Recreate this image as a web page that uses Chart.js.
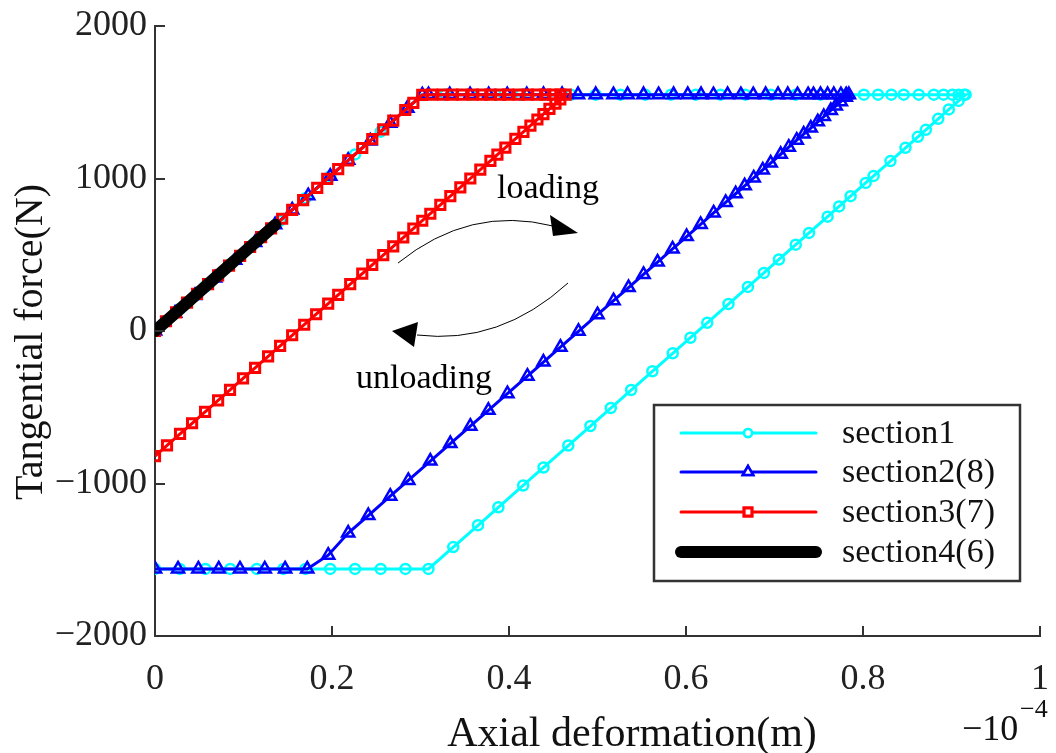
<!DOCTYPE html>
<html>
<head>
<meta charset="utf-8">
<script src="https://cdn.jsdelivr.net/npm/chart.js@4/dist/chart.umd.min.js"></script>
<style>
  html, body { margin: 0; padding: 0; background: #fff; }
  canvas { display: block; }
</style>
</head>
<body>
<canvas id="hysteresis" width="1056" height="753"></canvas>
<script>
// axial deformation in units of 1e-4 m, tangential force in N
const xTicks = [0, 0.2, 0.4, 0.6, 0.8, 1];
const yTicks = [-2000, -1000, 0, 1000, 2000];
const seriesNames = ['section1', 'section2(8)', 'section3(7)', 'section4(6)'];

// section1 : load to 0.916, unload to -1560, slide back to 0
const s1X = [0, 0.028, 0.057, 0.085, 0.113, 0.141, 0.170, 0.198, 0.226, 0.255, 0.283, 0.302,
  0.328, 0.357, 0.385, 0.413, 0.441, 0.470, 0.498, 0.526, 0.554, 0.583, 0.611, 0.639, 0.667, 0.696,
  0.724, 0.752, 0.781, 0.801, 0.817, 0.832, 0.846, 0.863, 0.880, 0.891, 0.901, 0.908, 0.914, 0.916,
  0.908, 0.897, 0.885, 0.871, 0.862, 0.848, 0.831, 0.812, 0.803, 0.786, 0.773, 0.760, 0.739, 0.724,
  0.705, 0.688, 0.670, 0.648, 0.624, 0.605, 0.585, 0.562, 0.538, 0.515, 0.492, 0.467, 0.439, 0.416,
  0.388, 0.365, 0.337, 0.309,
  0.283, 0.255, 0.226, 0.198, 0.170, 0.145, 0.115, 0.085, 0.057, 0.028, 0];
const s1Y = [0, 144, 292, 436, 579, 723, 871, 1015, 1158, 1307, 1450, 1548,
  1550, 1550, 1550, 1550, 1550, 1550, 1550, 1550, 1550, 1550, 1550, 1550, 1550, 1550,
  1550, 1550, 1550, 1550, 1550, 1550, 1550, 1550, 1550, 1550, 1550, 1550, 1550, 1550,
  1509, 1453, 1391, 1319, 1273, 1201, 1114, 1017, 971, 884, 817, 750, 643, 566,
  469, 381, 289, 177, 54, -44, -146, -264, -387, -505, -623, -751, -895, -1013,
  -1156, -1274, -1417, -1560,
  -1560, -1560, -1560, -1560, -1560, -1560, -1560, -1560, -1560, -1560, -1560];

// section2(8)
const s2X = [0, 0.0226, 0.0452, 0.0679, 0.0905, 0.1131, 0.1357, 0.155, 0.1731, 0.198, 0.2183,
  0.2432, 0.2658, 0.2851, 0.302,
  0.309, 0.333, 0.356, 0.377, 0.398, 0.420, 0.439, 0.460, 0.478, 0.498, 0.518, 0.534, 0.552,
  0.569, 0.586, 0.602, 0.617, 0.631, 0.647, 0.662, 0.676, 0.690, 0.704, 0.715, 0.726, 0.738,
  0.744, 0.752, 0.760, 0.767, 0.775, 0.781, 0.784,
  0.7805, 0.7749, 0.7692, 0.7636, 0.7557, 0.7489, 0.7410, 0.7330, 0.7251, 0.7161, 0.7070,
  0.6957, 0.6867, 0.6765, 0.6663, 0.6561, 0.6448, 0.6312, 0.6165, 0.6007, 0.5848, 0.5679,
  0.5520, 0.5351, 0.5181, 0.5000, 0.4785, 0.4581, 0.4389, 0.4208, 0.3982, 0.3767, 0.3563,
  0.3337, 0.3111, 0.2862, 0.2658, 0.2410, 0.2183, 0.1957, 0.172,
  0.147, 0.124, 0.096, 0.072, 0.049, 0.026, 0];
const s2Y = [0, 116, 232, 348, 464, 580, 696, 794, 887, 1015, 1119, 1246, 1362, 1461, 1548,
  1550, 1550, 1550, 1550, 1550, 1550, 1550, 1550, 1550, 1550, 1550, 1550, 1550,
  1550, 1550, 1550, 1550, 1550, 1550, 1550, 1550, 1550, 1550, 1550, 1550, 1550,
  1550, 1550, 1550, 1550, 1550, 1550, 1550,
  1532, 1504, 1475, 1446, 1406, 1372, 1331, 1291, 1251, 1205, 1159,
  1101, 1056, 1004, 952, 900, 843, 774, 699, 619, 538, 452,
  371, 285, 199, 107, -2, -106, -204, -296, -411, -520, -624,
  -738, -853, -980, -1083, -1210, -1325, -1470, -1560,
  -1560, -1560, -1560, -1560, -1560, -1560, -1560];

// section3(7)
const s3X = [0, 0.0124, 0.0238, 0.0362, 0.0475, 0.0600, 0.0713, 0.0837, 0.0962, 0.1075, 0.1199,
  0.1312, 0.1437, 0.1550, 0.1674, 0.1833, 0.1946, 0.2070, 0.2183, 0.2342, 0.2455, 0.2579,
  0.2692, 0.2828, 0.2919, 0.302,
  0.313, 0.325, 0.336, 0.347, 0.359, 0.370, 0.379, 0.390, 0.399, 0.411, 0.421, 0.432, 0.441,
  0.450, 0.458, 0.464,
  0.458, 0.4525, 0.4457, 0.4389, 0.4321, 0.4242, 0.4163, 0.4072, 0.3959, 0.3869, 0.3790,
  0.3676, 0.3563, 0.3450, 0.3337, 0.3224, 0.3111, 0.3020, 0.2919, 0.2805, 0.2692, 0.2579,
  0.2455, 0.2342, 0.2206, 0.2070, 0.1957, 0.1821, 0.1686, 0.1550, 0.1414, 0.1278, 0.1131,
  0.0995, 0.0848, 0.0713, 0.0566, 0.0419, 0.0283, 0.0136, 0];
const s3Y = [0, 64, 122, 186, 243, 307, 365, 429, 493, 551, 615, 673, 736, 794, 858, 939, 997,
  1061, 1119, 1200, 1258, 1322, 1380, 1449, 1496, 1548,
  1550, 1550, 1550, 1550, 1550, 1550, 1550, 1550, 1550, 1550, 1550, 1550, 1550,
  1550, 1550, 1550,
  1519, 1491, 1457, 1422, 1387, 1347, 1306, 1260, 1202, 1156, 1116,
  1058, 1000, 942, 885, 827, 769, 723, 671, 613, 555, 497,
  434, 376, 307, 237, 179, 110, 41, -28, -97, -167, -242,
  -311, -386, -455, -530, -605, -675, -750, -820];

// section4(6)
const s4X = [0, 0.034, 0.068, 0.102, 0.136];
const s4Y = [0, 174, 349, 523, 697];

const FONT = "'Liberation Serif', 'Times New Roman', 'DejaVu Serif', serif";
const toPts = (xs, ys) => xs.map((x, i) => ({ x: x, y: ys[i] }));

const decor = {
    id: 'decor',
    afterDatasetsDraw(chart) {
        const ctx = chart.ctx;
        const a = chart.chartArea;
        const xs = chart.scales.x, ys = chart.scales.y;
        ctx.save();

        // inward tick marks, matlab style
        ctx.strokeStyle = '#333';
        ctx.lineWidth = 2;
        ctx.beginPath();
        xTicks.forEach(v => {
            const p = Math.round(xs.getPixelForValue(v));
            ctx.moveTo(p, a.bottom);
            ctx.lineTo(p, a.bottom - 10);
        });
        yTicks.forEach(v => {
            const p = Math.round(ys.getPixelForValue(v));
            ctx.moveTo(a.left, p);
            ctx.lineTo(a.left + 10, p);
        });
        ctx.stroke();

        // loading / unloading arrows
        ctx.strokeStyle = '#000';
        ctx.fillStyle = '#000';
        ctx.lineWidth = 1;
        ctx.beginPath();
        ctx.moveTo(398, 263);
        ctx.quadraticCurveTo(470, 205, 553, 226);
        ctx.stroke();
        ctx.beginPath();
        ctx.moveTo(578, 233); ctx.lineTo(550, 215); ctx.lineTo(553, 236); ctx.closePath();
        ctx.fill();

        ctx.beginPath();
        ctx.moveTo(568, 283);
        ctx.quadraticCurveTo(500, 345, 417, 335);
        ctx.stroke();
        ctx.beginPath();
        ctx.moveTo(392, 331); ctx.lineTo(418, 322); ctx.lineTo(414, 347); ctx.closePath();
        ctx.fill();

        ctx.font = '34px ' + FONT;
        ctx.textBaseline = 'alphabetic';
        ctx.textAlign = 'left';
        ctx.fillText('loading', 497, 198);
        ctx.fillText('unloading', 356, 388);
        ctx.restore();
    },
    afterDraw(chart) {
        const ctx = chart.ctx;
        const ds = chart.data.datasets;
        ctx.save();

        // legend box
        ctx.fillStyle = '#fff';
        ctx.fillRect(654, 405, 366, 176);
        ctx.strokeStyle = '#333';
        ctx.lineWidth = 2.5;
        ctx.strokeRect(654, 405, 366, 176);

        const rows = [433, 472, 512, 552];
        ds.forEach((d, i) => {
            const y = rows[i];
            ctx.strokeStyle = d.borderColor;
            ctx.lineWidth = d.borderWidth;
            ctx.lineCap = 'round';
            ctx.beginPath();
            ctx.moveTo(681, y);
            ctx.lineTo(816, y);
            ctx.stroke();
            if (d.pointRadius > 0) {
                ctx.lineWidth = d.pointBorderWidth;
                Chart.helpers.drawPoint(ctx, {
                    pointStyle: d.pointStyle, radius: d.pointRadius - 1,
                    borderWidth: d.pointBorderWidth, rotation: 0
                }, 748, y);
                ctx.fillStyle = '#fff';
                ctx.fill();
                ctx.stroke();
            }
            ctx.fillStyle = '#111';
            ctx.font = '34px ' + FONT;
            ctx.textBaseline = 'middle';
            ctx.fillText(d.label, 842, y + 1);
        });

        // axis titles
        ctx.fillStyle = '#111';
        ctx.font = '42px ' + FONT;
        ctx.textAlign = 'center';
        ctx.textBaseline = 'alphabetic';
        ctx.fillText('Axial deformation(m)', 632, 746);

        ctx.save();
        ctx.translate(42, 342);
        ctx.rotate(-Math.PI / 2);
        ctx.font = '40px ' + FONT;
        ctx.fillText('Tangential force(N)', 0, 0);
        ctx.restore();

        // exponent label
        ctx.textAlign = 'left';
        ctx.font = '36px ' + FONT;
        ctx.fillText('\u221210', 962, 740);
        ctx.font = '26px ' + FONT;
        ctx.fillText('\u22124', 1020, 717);
        ctx.restore();
    }
};

new Chart(document.getElementById('hysteresis'), {
    type: 'line',
    data: {
        datasets: [
            {
                label: seriesNames[0], data: toPts(s1X, s1Y),
                borderColor: '#00ffff', borderWidth: 3,
                pointStyle: 'circle', pointRadius: 5, pointBorderWidth: 2.5,
                pointBackgroundColor: 'rgba(255,255,255,0)', pointBorderColor: '#00ffff',
                order: 3
            },
            {
                label: seriesNames[1], data: toPts(s2X, s2Y),
                borderColor: '#0000ff', borderWidth: 3,
                pointStyle: 'triangle', pointRadius: 7, pointBorderWidth: 2.5,
                pointBackgroundColor: 'rgba(255,255,255,0)', pointBorderColor: '#0000ff',
                order: 2
            },
            {
                label: seriesNames[2], data: toPts(s3X, s3Y),
                borderColor: '#ff0000', borderWidth: 3,
                pointStyle: 'rect', pointRadius: 6.5, pointBorderWidth: 3,
                pointBackgroundColor: 'rgba(255,255,255,0)', pointBorderColor: '#ff0000',
                order: 1
            },
            {
                label: seriesNames[3], data: toPts(s4X, s4Y),
                borderColor: '#000000', borderWidth: 12, borderCapStyle: 'round',
                pointRadius: 0, pointBorderWidth: 0,
                order: 0
            }
        ]
    },
    options: {
        responsive: false,
        animation: false,
        parsing: false,
        events: [],
        layout: { padding: { left: 0, top: 26, right: 16, bottom: 0 } },
        plugins: { legend: { display: false }, tooltip: { enabled: false } },
        elements: { line: { tension: 0, fill: false } },
        scales: {
            x: {
                type: 'linear', min: 0, max: 1,
                afterBuildTicks: s => { s.ticks = xTicks.map(v => ({ value: v })); },
                afterFit: s => { s.height = 117; s.paddingLeft = 0; s.paddingRight = 0; },
                grid: { display: false, drawTicks: false },
                border: { display: true, color: '#333', width: 2 },
                ticks: {
                    padding: 22, color: '#222', maxRotation: 0,
                    font: { family: FONT, size: 36 },
                    callback: v => String(v)
                }
            },
            y: {
                type: 'linear', min: -2000, max: 2000,
                afterBuildTicks: s => { s.ticks = yTicks.map(v => ({ value: v })); },
                afterFit: s => { s.width = 155; s.paddingTop = 0; s.paddingBottom = 0; },
                grid: { display: false, drawTicks: false },
                border: { display: true, color: '#333', width: 2 },
                ticks: {
                    padding: 8, color: '#222',
                    font: { family: FONT, size: 36 },
                    callback: v => (v < 0 ? '\u2212' + Math.abs(v) : String(v))
                }
            }
        }
    },
    plugins: [decor]
});
</script>
</body>
</html>
